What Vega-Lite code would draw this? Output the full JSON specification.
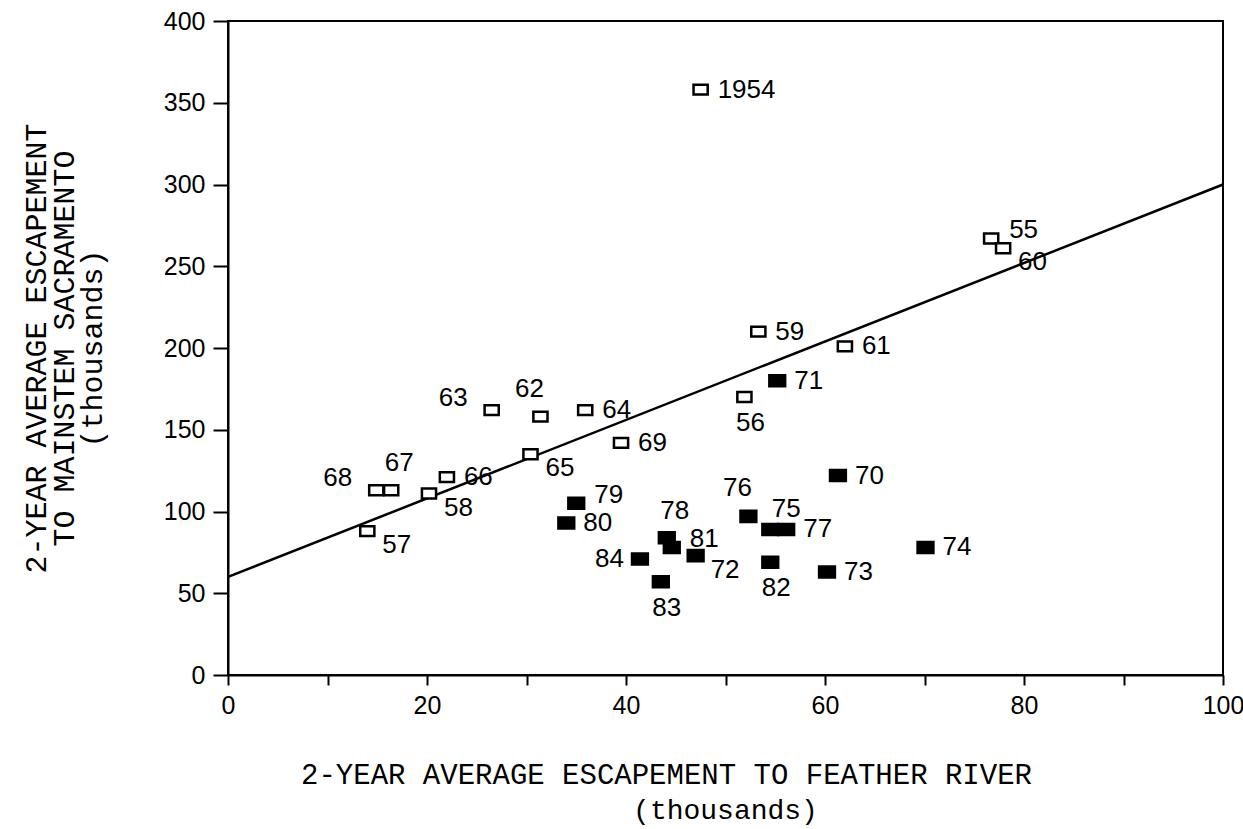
{
  "$schema": "https://vega.github.io/schema/vega-lite/v6.json",
  "width": 995,
  "height": 654,
  "autosize": {"type": "none"},
  "padding": {"left": 228, "top": 21, "right": 20, "bottom": 154},
  "background": "white",
  "title": {
    "text": "(thousands)", "orient": "bottom", "anchor": "middle", "offset": 8,
    "font": "Liberation Mono", "fontSize": 28, "fontWeight": "normal", "color": "black"
  },
  "config": {
    "view": {"stroke": "black", "strokeWidth": 2},
    "axis": {
      "domainColor": "black", "domainWidth": 2, "tickColor": "black", "tickWidth": 2,
      "labelColor": "black", "titleColor": "black", "grid": false,
      "labelFont": "Liberation Sans", "labelFontSize": 25, "labelFontWeight": "normal",
      "titleFont": "Liberation Mono", "titleFontSize": 29, "titleFontWeight": "normal"
    }
  },
  "datasets": {
    "pts": [
      {"year": "1954", "feather": 47.5, "sacramento": 358, "period": "1954-1969", "pos": "right"},
      {"year": "55", "feather": 76.7, "sacramento": 267, "period": "1954-1969", "pos": "upperRight"},
      {"year": "56", "feather": 51.9, "sacramento": 170, "period": "1954-1969", "pos": "below"},
      {"year": "57", "feather": 14.0, "sacramento": 88, "period": "1954-1969", "pos": "lowerRight"},
      {"year": "58", "feather": 20.2, "sacramento": 111, "period": "1954-1969", "pos": "lowerRight"},
      {"year": "59", "feather": 53.3, "sacramento": 210, "period": "1954-1969", "pos": "right"},
      {"year": "60", "feather": 77.9, "sacramento": 261, "period": "1954-1969", "pos": "lowerRight"},
      {"year": "61", "feather": 62.0, "sacramento": 201, "period": "1954-1969", "pos": "right"},
      {"year": "62", "feather": 31.4, "sacramento": 158, "period": "1954-1969", "pos": "aboveLeft"},
      {"year": "63", "feather": 26.5, "sacramento": 162, "period": "1954-1969", "pos": "upperLeft"},
      {"year": "64", "feather": 35.9, "sacramento": 162, "period": "1954-1969", "pos": "right"},
      {"year": "65", "feather": 30.4, "sacramento": 135, "period": "1954-1969", "pos": "lowerRight"},
      {"year": "66", "feather": 22.0, "sacramento": 121, "period": "1954-1969", "pos": "right"},
      {"year": "67", "feather": 16.4, "sacramento": 113, "period": "1954-1969", "pos": "above"},
      {"year": "68", "feather": 14.9, "sacramento": 113, "period": "1954-1969", "pos": "upperLeft"},
      {"year": "69", "feather": 39.5, "sacramento": 142, "period": "1954-1969", "pos": "right"},
      {"year": "70", "feather": 61.3, "sacramento": 122, "period": "1970-1984", "pos": "right"},
      {"year": "71", "feather": 55.2, "sacramento": 180, "period": "1970-1984", "pos": "right"},
      {"year": "72", "feather": 47.0, "sacramento": 73, "period": "1970-1984", "pos": "lowerRight"},
      {"year": "73", "feather": 60.2, "sacramento": 63, "period": "1970-1984", "pos": "right"},
      {"year": "74", "feather": 70.1, "sacramento": 78, "period": "1970-1984", "pos": "right"},
      {"year": "75", "feather": 54.5, "sacramento": 89, "period": "1970-1984", "pos": "aboveRight"},
      {"year": "76", "feather": 52.3, "sacramento": 97, "period": "1970-1984", "pos": "aboveLeft"},
      {"year": "77", "feather": 56.1, "sacramento": 89, "period": "1970-1984", "pos": "right"},
      {"year": "78", "feather": 44.1, "sacramento": 84, "period": "1970-1984", "pos": "above"},
      {"year": "79", "feather": 35.0, "sacramento": 105, "period": "1970-1984", "pos": "upperRight"},
      {"year": "80", "feather": 34.0, "sacramento": 93, "period": "1970-1984", "pos": "right"},
      {"year": "81", "feather": 44.6, "sacramento": 78, "period": "1970-1984", "pos": "upperRight"},
      {"year": "82", "feather": 54.5, "sacramento": 69, "period": "1970-1984", "pos": "below"},
      {"year": "83", "feather": 43.5, "sacramento": 57, "period": "1970-1984", "pos": "below"},
      {"year": "84", "feather": 41.4, "sacramento": 71, "period": "1970-1984", "pos": "left"}
    ],
    "fit": [
      {"feather": 0, "sacramento": 60},
      {"feather": 100, "sacramento": 300}
    ]
  },
  "layer": [
    {
      "data": {"name": "fit"},
      "mark": {"type": "line", "color": "black", "strokeWidth": 2.5},
      "encoding": {
        "x": {
          "field": "feather", "type": "quantitative",
          "scale": {"domain": [0, 100], "nice": false},
          "axis": {
            "values": [0, 10, 20, 30, 40, 50, 60, 70, 80, 90, 100],
            "labelExpr": "datum.value % 20 === 0 ? datum.label : ''",
            "tickSize": 10, "labelPadding": 8, "labelFlush": false,
            "title": "2-YEAR AVERAGE ESCAPEMENT TO FEATHER RIVER",
            "titleAnchor": "middle", "titleX": 438, "titlePadding": 42
          }
        },
        "y": {
          "field": "sacramento", "type": "quantitative",
          "scale": {"domain": [0, 400], "nice": false},
          "axis": {
            "values": [0, 50, 100, 150, 200, 250, 300, 350, 400],
            "tickSize": 15, "labelPadding": 8, "labelFlush": false,
            "title": ["2-YEAR AVERAGE ESCAPEMENT", "TO MAINSTEM SACRAMENTO", "(thousands)"],
            "titleFontSize": 30, "titleLineHeight": 28, "titlePadding": 56
          }
        }
      }
    },
    {
      "data": {"name": "pts"},
      "mark": {"type": "point", "shape": "M-1,-0.7H1V0.7H-1Z", "strokeWidth": 2.5, "opacity": 1},
      "encoding": {
        "x": {"field": "feather", "type": "quantitative"},
        "y": {"field": "sacramento", "type": "quantitative"},
        "fill": {"field": "period", "type": "nominal", "scale": {"domain": ["1954-1969", "1970-1984"], "range": ["white", "black"]}, "legend": null},
        "size": {"field": "period", "type": "nominal", "scale": {"domain": ["1954-1969", "1970-1984"], "range": [200, 250]}, "legend": null},
        "stroke": {"value": "black"}
      }
    },
    {
      "data": {"name": "pts"},
      "transform": [{"filter": "datum.pos === 'right'"}],
      "mark": {"type": "text", "align": "left", "baseline": "middle", "dx": 17, "font": "Liberation Sans", "fontSize": 26, "color": "black"},
      "encoding": {"x": {"field": "feather", "type": "quantitative"}, "y": {"field": "sacramento", "type": "quantitative"}, "text": {"field": "year"}}
    },
    {
      "data": {"name": "pts"},
      "transform": [{"filter": "datum.pos === 'upperRight'"}],
      "mark": {"type": "text", "align": "left", "baseline": "middle", "dx": 18, "dy": -8, "font": "Liberation Sans", "fontSize": 26, "color": "black"},
      "encoding": {"x": {"field": "feather", "type": "quantitative"}, "y": {"field": "sacramento", "type": "quantitative"}, "text": {"field": "year"}}
    },
    {
      "data": {"name": "pts"},
      "transform": [{"filter": "datum.pos === 'lowerRight'"}],
      "mark": {"type": "text", "align": "left", "baseline": "middle", "dx": 15, "dy": 14, "font": "Liberation Sans", "fontSize": 26, "color": "black"},
      "encoding": {"x": {"field": "feather", "type": "quantitative"}, "y": {"field": "sacramento", "type": "quantitative"}, "text": {"field": "year"}}
    },
    {
      "data": {"name": "pts"},
      "transform": [{"filter": "datum.pos === 'upperLeft'"}],
      "mark": {"type": "text", "align": "right", "baseline": "middle", "dx": -24, "dy": -12, "font": "Liberation Sans", "fontSize": 26, "color": "black"},
      "encoding": {"x": {"field": "feather", "type": "quantitative"}, "y": {"field": "sacramento", "type": "quantitative"}, "text": {"field": "year"}}
    },
    {
      "data": {"name": "pts"},
      "transform": [{"filter": "datum.pos === 'left'"}],
      "mark": {"type": "text", "align": "right", "baseline": "middle", "dx": -16, "font": "Liberation Sans", "fontSize": 26, "color": "black"},
      "encoding": {"x": {"field": "feather", "type": "quantitative"}, "y": {"field": "sacramento", "type": "quantitative"}, "text": {"field": "year"}}
    },
    {
      "data": {"name": "pts"},
      "transform": [{"filter": "datum.pos === 'above'"}],
      "mark": {"type": "text", "align": "center", "baseline": "middle", "dx": 8, "dy": -27, "font": "Liberation Sans", "fontSize": 26, "color": "black"},
      "encoding": {"x": {"field": "feather", "type": "quantitative"}, "y": {"field": "sacramento", "type": "quantitative"}, "text": {"field": "year"}}
    },
    {
      "data": {"name": "pts"},
      "transform": [{"filter": "datum.pos === 'aboveLeft'"}],
      "mark": {"type": "text", "align": "center", "baseline": "middle", "dx": -11, "dy": -28, "font": "Liberation Sans", "fontSize": 26, "color": "black"},
      "encoding": {"x": {"field": "feather", "type": "quantitative"}, "y": {"field": "sacramento", "type": "quantitative"}, "text": {"field": "year"}}
    },
    {
      "data": {"name": "pts"},
      "transform": [{"filter": "datum.pos === 'aboveRight'"}],
      "mark": {"type": "text", "align": "center", "baseline": "middle", "dx": 16, "dy": -20, "font": "Liberation Sans", "fontSize": 26, "color": "black"},
      "encoding": {"x": {"field": "feather", "type": "quantitative"}, "y": {"field": "sacramento", "type": "quantitative"}, "text": {"field": "year"}}
    },
    {
      "data": {"name": "pts"},
      "transform": [{"filter": "datum.pos === 'below'"}],
      "mark": {"type": "text", "align": "center", "baseline": "middle", "dx": 6, "dy": 26, "font": "Liberation Sans", "fontSize": 26, "color": "black"},
      "encoding": {"x": {"field": "feather", "type": "quantitative"}, "y": {"field": "sacramento", "type": "quantitative"}, "text": {"field": "year"}}
    }
  ]
}
